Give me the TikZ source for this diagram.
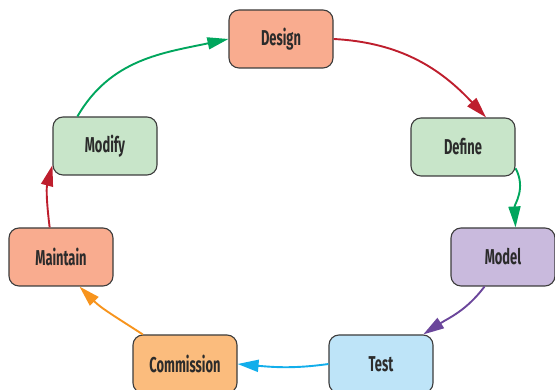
\documentclass[tikz,border=0pt]{standalone}
\usepackage{fontspec}
\newfontfamily\stagefont[FakeStretch=0.6]{Fira Sans}
\usetikzlibrary{arrows.meta}

\definecolor{salmonfill}{HTML}{F9AC8F}
\definecolor{mintfill}{HTML}{C8E5C9}
\definecolor{lilacfill}{HTML}{C9BADD}
\definecolor{skyfill}{HTML}{BEE4F8}
\definecolor{peachfill}{HTML}{FBBC7D}
\definecolor{boxline}{HTML}{3C3C3C}
\definecolor{textgray}{HTML}{2B2B2B}
\definecolor{flowgreen}{HTML}{00A65D}
\definecolor{flowred}{HTML}{BE1E2D}
\definecolor{flowpurple}{HTML}{6B469B}
\definecolor{flowblue}{HTML}{12AEEB}
\definecolor{floworange}{HTML}{F7941D}

\tikzset{stage/.style = {shape = rectangle,
                         rounded corners = 10pt,
                         draw = boxline,
                         line width = 1.1pt,
                         minimum width = 104pt,
                         minimum height = 58pt,
                         text = textgray,
                         font=\stagefont\bfseries\fontsize{21.5}{21.5}\selectfont},
         flow/.style = {line width = 1.9pt,
                        -{Triangle[length=21pt,width=12pt]}}}

\begin{document}
\begin{tikzpicture}[x=1pt, y=1pt]
		\useasboundingbox (0,0) rectangle (555,390);
		\node[stage, fill=salmonfill] (design) at (281,351) {Design};
		\node[stage, fill=mintfill] (define) at (463,243) {Define};
		\node[stage, fill=lilacfill] (model) at (503,133) {Model};
		\node[stage, fill=skyfill] (test) at (381,26) {Test};
		\node[stage, fill=peachfill] (commission) at (185,26) {Commission};
		\node[stage, fill=salmonfill] (maintain) at (61,133) {Maintain};
		\node[stage, fill=mintfill] (modify) at (105,244) {Modify};
		\path (modify.133) edge[flow, draw=flowgreen, out=60, in=192] (design.west);
		\path (design.east) edge[flow, draw=flowred, out=-3, in=133] (define.52);
		\path (define.-22) edge[flow, draw=flowgreen, out=-62, in=93] (model.67);
		\path (model.238) edge[flow, draw=flowpurple, out=233, in=33] (test.35);
		\path (test.west) edge[flow, draw=flowblue, out=188, in=-5] (commission.east);
		\path (commission.145) edge[flow, draw=floworange, out=147, in=-45] (maintain.302);
		\path (maintain.111) edge[flow, draw=flowred, out=97, in=255] (modify.200);
	\end{tikzpicture}
\end{document}
